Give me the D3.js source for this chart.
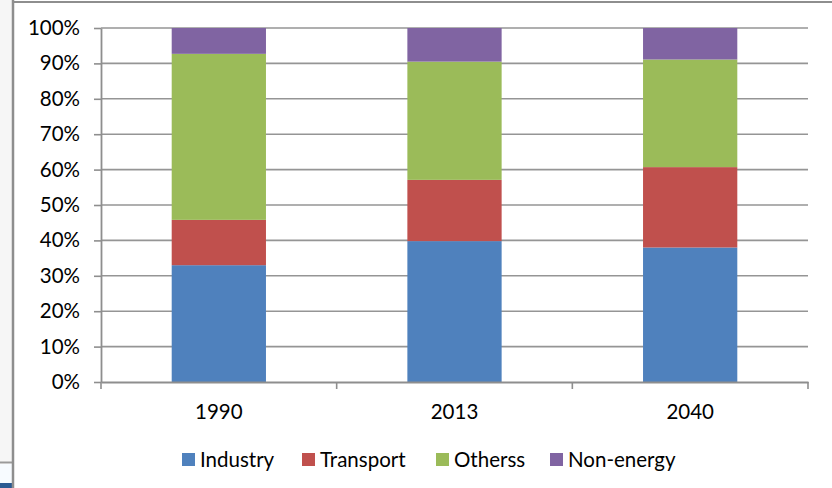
<!DOCTYPE html>
<html><head><meta charset="utf-8">
<script src="https://cdn.jsdelivr.net/npm/d3@7"></script>
<style>body{margin:0;background:#fff;}svg{display:block;}</style>
</head><body>
<svg id="c" width="832" height="488"></svg>
<script>
const categories = ["1990", "2013", "2040"];
const seriesNames = ["Industry", "Transport", "Otherss", "Non-energy"];
const industry  = [0.330, 0.398, 0.380];
const transport = [0.128, 0.173, 0.227];
const otherss   = [0.469, 0.334, 0.304];
const nonEnergy = [0.073, 0.095, 0.089];
const yTicks = [0, 0.1, 0.2, 0.3, 0.4, 0.5, 0.6, 0.7, 0.8, 0.9, 1.0];
const colors = ["#4f81bd", "#c0504d", "#9bbb59", "#8064a2"];

(function () {
const seriesValues = [industry, transport, otherss, nonEnergy];
const rows = categories.map((c, i) => {
  const r = {cat: c};
  seriesNames.forEach((s, j) => r[s] = seriesValues[j][i]);
  return r;
});

const svg = d3.select("#c");
const font = "Lato, 'Open Sans', sans-serif";
const fs = 20.5;

// outer frame artifacts
svg.append("rect").attr("x",0).attr("y",0).attr("width",12).attr("height",462).attr("fill","#f6f6f6");
svg.append("rect").attr("x",0).attr("y",464).attr("width",12).attr("height",19).attr("fill","#f7fbff");
svg.append("rect").attr("x",0).attr("y",483).attr("width",13).attr("height",5).attr("fill","#2a5a92");
svg.append("line").attr("x1",0).attr("x2",12).attr("y1",462.5).attr("y2",462.5).attr("stroke","#9a9a9a").attr("stroke-width",2);
svg.append("line").attr("x1",13).attr("x2",13).attr("y1",0).attr("y2",488).attr("stroke","#8e8e8e").attr("stroke-width",2.5);
svg.append("line").attr("x1",13).attr("x2",832).attr("y1",2).attr("y2",2).attr("stroke","#8e8e8e").attr("stroke-width",2);

const pl = 101, pr = 808, pt = 28, pb = 382;
const x = d3.scaleBand().domain(categories).range([pl, pr]).paddingInner(0.6).paddingOuter(0.3);
const y = d3.scaleLinear().domain([0, 1]).range([pb, pt]);

// gridlines
svg.append("g").selectAll("line").data(yTicks.slice(1)).join("line")
  .attr("x1", pl).attr("x2", pr)
  .attr("y1", d => y(d)).attr("y2", d => y(d))
  .attr("stroke", "#959595").attr("stroke-width", 1.6);

// bars
const stack = d3.stack().keys(seriesNames)(rows);
svg.append("g").selectAll("g").data(stack).join("g")
  .attr("fill", (d, i) => colors[i])
  .selectAll("rect").data(d => d).join("rect")
  .attr("x", d => x(d.data.cat))
  .attr("width", x.bandwidth())
  .attr("y", d => y(d[1]))
  .attr("height", d => y(d[0]) - y(d[1]));

// y axis
const yAxis = svg.append("g").attr("transform", `translate(${pl},0)`)
  .call(d3.axisLeft(y).tickValues(yTicks).tickFormat(d3.format(".0%")).tickSizeInner(7).tickSizeOuter(0).tickPadding(14));
yAxis.select(".domain").attr("stroke", "#8e8e8e").attr("stroke-width", 1.8);
yAxis.selectAll(".tick line").attr("stroke", "#8e8e8e").attr("stroke-width", 1.6);
yAxis.selectAll("text").attr("font-family", font).attr("font-size", fs).attr("fill", "#000");

// x axis
const xAxis = svg.append("g").attr("transform", `translate(0,${pb})`)
  .call(d3.axisBottom(x).tickSize(0).tickPadding(22));
xAxis.select(".domain").attr("stroke", "#8e8e8e").attr("stroke-width", 1.8);
xAxis.selectAll("text").attr("font-family", font).attr("font-size", fs).attr("fill", "#000");
const step = x.step();
xAxis.append("g").selectAll("line").data(d3.range(categories.length + 1)).join("line")
  .attr("x1", i => pl + i * step).attr("x2", i => pl + i * step)
  .attr("y1", 0).attr("y2", 7)
  .attr("stroke", "#8e8e8e").attr("stroke-width", 1.6);

// legend
const legendX = [182, 302, 436, 550];
const lg = svg.append("g").selectAll("g").data(seriesNames).join("g")
  .attr("transform", (d, i) => `translate(${legendX[i]},453)`);
lg.append("rect").attr("width", 13).attr("height", 13).attr("fill", (d, i) => colors[i]);
lg.append("text").attr("x", 18).attr("y", 14).text(d => d)
  .attr("font-family", font).attr("font-size", fs).attr("fill", "#000");
})();
</script>
</body></html>
